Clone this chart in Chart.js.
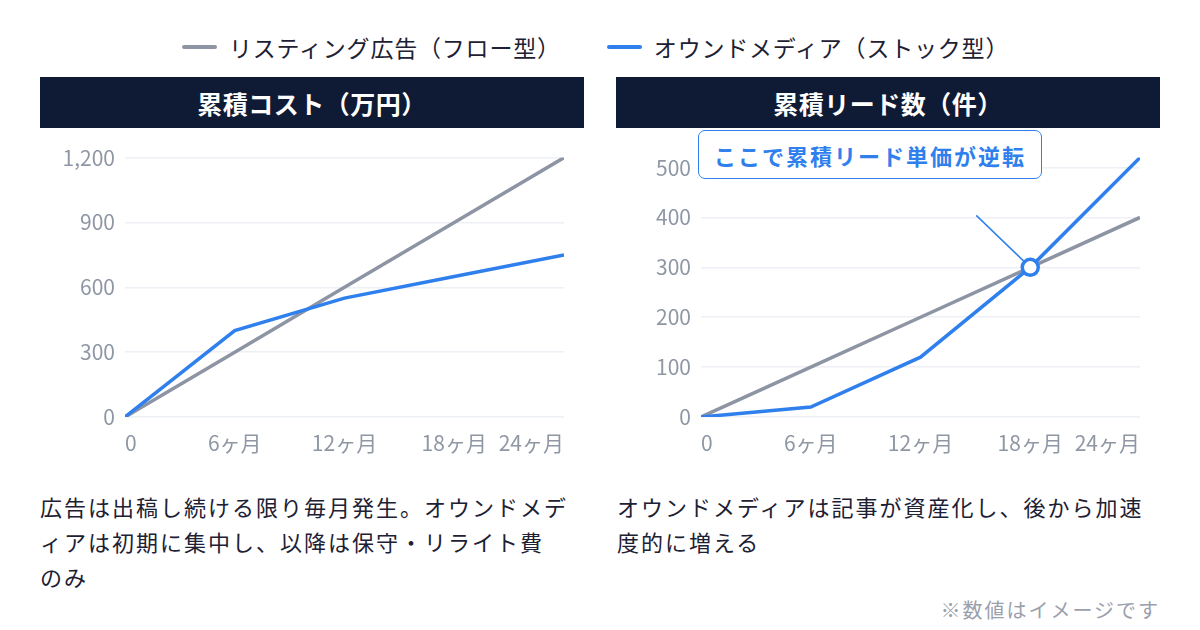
<!DOCTYPE html>
<html lang="ja">
<head>
<meta charset="utf-8">
<script src="https://cdn.jsdelivr.net/npm/chart.js@4.4.1/dist/chart.umd.min.js"></script>
<style>
  html, body { margin: 0; padding: 0; background: #fff; }
  body {
    width: 1200px; height: 630px; position: relative; overflow: hidden;
    font-family: "Noto Sans CJK JP", "Noto Sans", sans-serif; color: #1d2133;
  }
  .legend { position: absolute; top: 30px; left: 182px; height: 34px; display: flex; align-items: center; font-size: 23px; letter-spacing: 0.8px; }
  .legend .item { display: flex; align-items: center; margin-right: 46px; }
  .legend .sw { width: 35px; height: 4px; border-radius: 2px; margin-right: 12px; }
  .head {
    position: absolute; top: 77px; width: 544px; height: 51px; background: #0f1a35;
    color: #fff; font-weight: 700; font-size: 25px; letter-spacing: 0.5px;
    display: flex; align-items: center; justify-content: center;
  }
  .box { position: absolute; top: 135px; width: 544px; height: 322px; }
  .note { position: absolute; top: 489px; width: 580px; font-size: 22px; letter-spacing: 2px; line-height: 35px; }
  .callout {
    position: absolute; left: 698px; top: 130px; width: 344px; height: 49px; box-sizing: border-box;
    border: 1.5px solid #2f80ed; border-radius: 7px; background: #fff; color: #2f80ed;
    font-weight: 700; font-size: 22px; letter-spacing: 2px;
    display: flex; align-items: center; justify-content: center;
  }
  .foot { position: absolute; right: 40px; top: 596px; font-size: 20px; letter-spacing: 2px; line-height: 28px; color: #9aa0ab; }
</style>
</head>
<body>

<div class="legend">
  <div class="item"><span class="sw" style="background:#8d94a4"></span>リスティング広告（フロー型）</div>
  <div class="item"><span class="sw" style="background:#2f80ed"></span>オウンドメディア（ストック型）</div>
</div>

<div class="head" style="left:40px">累積コスト（万円）</div>
<div class="head" style="left:616px">累積リード数（件）</div>

<div class="box" style="left:40px"><canvas id="chart-cost"></canvas></div>
<div class="box" style="left:616px"><canvas id="chart-leads"></canvas></div>

<div class="callout">ここで累積リード単価が逆転</div>

<div class="note" style="left:40px">広告は出稿し続ける限り毎月発生。オウンドメデ<br>ィアは初期に集中し、以降は保守・リライト費<br>のみ</div>
<div class="note" style="left:617px">オウンドメディアは記事が資産化し、後から加速<br>度的に増える</div>

<div class="foot">※数値はイメージです</div>

<script>
const months = [0, 6, 12, 18, 24];

const costListing = [0, 300, 600, 900, 1200];
const costOwned = [0, 400, 550, 650, 750];
const costTicks = [0, 300, 600, 900, 1200];

const leadsListing = [0, 100, 200, 300, 400];
const leadsOwned = [0, 20, 120, 300, 520];
const leadTicks = [0, 100, 200, 300, 400, 500];

// 18ヶ月でリード数が並ぶ点
const crossIndex = 3;

const GRAY = "#8d94a4";
const BLUE = "#2f80ed";
const TICK = "#8f96a4";

// 交点マーカーから左上へ伸びる引き出し線
const calloutLeader = {
    id: "calloutLeader",
    beforeDatasetsDraw(chart) {
        const pt = chart.getDatasetMeta(1).data[crossIndex];
        const ctx = chart.ctx;
        ctx.save();
        ctx.strokeStyle = BLUE;
        ctx.lineWidth = 1.5;
        ctx.beginPath();
        ctx.moveTo(pt.x, pt.y);
        ctx.lineTo(pt.x - 54, pt.y - 52);
        ctx.stroke();
        ctx.restore();
    }
};

function toPoints(values) {
    return months.map((m, i) => ({ x: m, y: values[i] }));
}

function makeChart(id, listing, owned, yTicks, yMax, marker) {
    const tickFont = { family: "'Noto Sans CJK JP', 'Noto Sans', sans-serif", size: 21 };
    return new Chart(document.getElementById(id), {
        type: "line",
        data: {
            datasets: [{
                label: "リスティング広告（フロー型）",
                data: toPoints(listing),
                borderColor: GRAY,
                borderWidth: 3.5,
                pointRadius: 0,
                order: 1
            }, {
                label: "オウンドメディア（ストック型）",
                data: toPoints(owned),
                borderColor: BLUE,
                borderWidth: 3.5,
                pointRadius: ctx => (marker && ctx.dataIndex === crossIndex) ? 8 : 0,
                pointBorderWidth: 3.5,
                pointBorderColor: BLUE,
                pointBackgroundColor: "#fff",
                order: 0
            }]
        },
        options: {
            responsive: true,
            maintainAspectRatio: false,
            animation: false,
            events: [],
            layout: { padding: { top: 12, right: 20, left: 0, bottom: 0 } },
            plugins: { legend: { display: false }, tooltip: { enabled: false } },
            scales: {
                x: {
                    type: "linear",
                    min: 0,
                    max: 24,
                    afterBuildTicks: s => { s.ticks = months.map(v => ({ value: v })); },
                    afterFit: s => { s.height = 40; },
                    grid: { display: false, drawTicks: false },
                    border: { display: false },
                    ticks: {
                        align: "inner",
                        autoSkip: false,
                        maxRotation: 0,
                        padding: 13,
                        color: TICK,
                        font: tickFont,
                        callback: v => v === 0 ? "0" : v + "ヶ月"
                    }
                },
                y: {
                    min: 0,
                    max: yMax,
                    afterBuildTicks: s => { s.ticks = yTicks.map(v => ({ value: v })); },
                    afterFit: s => { s.width = 85; },
                    grid: { color: "#edf0f4", lineWidth: 1.5, drawTicks: false },
                    border: { display: false },
                    ticks: {
                        padding: 10,
                        color: TICK,
                        font: tickFont,
                        callback: v => v.toLocaleString("en-US")
                    }
                }
            }
        },
        plugins: marker ? [calloutLeader] : []
    });
}

makeChart("chart-cost", costListing, costOwned, costTicks, Math.max(...costTicks), false);
makeChart("chart-leads", leadsListing, leadsOwned, leadTicks, Math.max(...leadsOwned), true);
</script>
</body>
</html>
